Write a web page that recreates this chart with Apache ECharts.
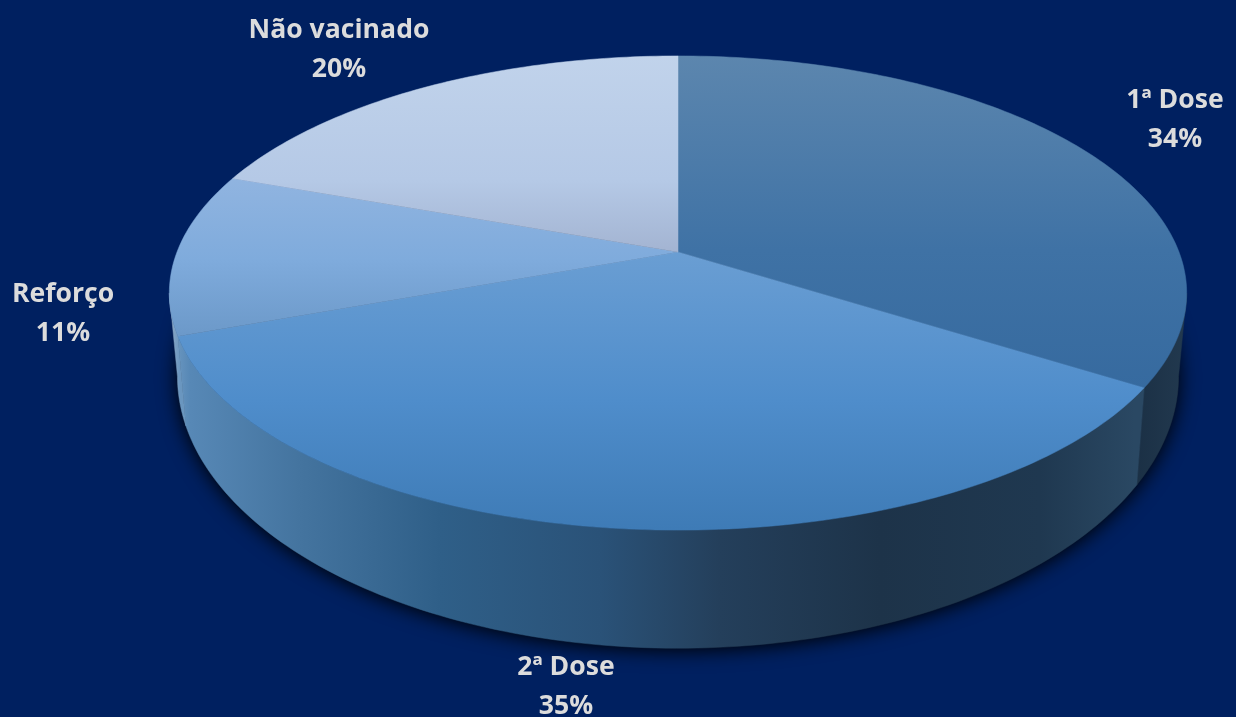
<!DOCTYPE html>
<html>
<head>
<meta charset="utf-8">
<title>Vacinação</title>
<script src="https://cdn.jsdelivr.net/npm/echarts@6/dist/echarts.min.js"></script>
<style>
  html, body { margin: 0; padding: 0; background: #002060; }
  #pie3d { width: 1236px; height: 717px; }
</style>
</head>
<body>
<div id="pie3d"></div>
<script>
// dados (o rotulo arredonda)
var categories = ['1ª Dose', '2ª Dose', 'Reforço', 'Não vacinado'];
var percents = [34, 35.4, 11.1, 19.5];

// cores de cada fatia: [y, cor] do gradiente vertical do topo
var topStops = [
  [[56, '#5c86ae'], [250, '#3f72a5'], [390, '#366a9f']],
  [[252, '#6a9ed3'], [400, '#4f8dcb'], [530, '#3e7bb6']],
  [[180, '#90b4e0'], [260, '#7fabdc'], [335, '#6c99c9']],
  [[56, '#c1d3eb'], [180, '#b5c9e6'], [252, '#a3b4d2']]
];
// cores da parede: [x, cor] do gradiente horizontal
var wallStops = [
  [[1130, '#1a2f44'], [1187, '#22394f']],
  [[176, '#6a96bf'], [190, '#5788b6'], [300, '#44749f'], [440, '#2f5f88'], [600, '#2a5278'], [720, '#243f5b'], [880, '#1d3349'], [1040, '#1f3850'], [1135, '#2a4863']],
  [[170, '#8fa9c6'], [180, '#6a96bf']],
  [[0, '#000000'], [1, '#000000']]
];
var labelCenters = [[1175, 120], [566, 687], [63, 314], [339, 50]];

// projeção do disco (topo e base)
var CX = 678;
var K = 0.173;
var topDisk = { r: 501, s: 230, y: 252 };
var baseDisk = { r: 493, s: 264, y: 329 };
var FRONT_FROM = 100, FRONT_TO = 260;

function project(disk, deg) {
  var a = deg * Math.PI / 180;
  var X = Math.sin(a), Y = -Math.cos(a);
  var w = 1 - K * Y;
  return [CX + disk.r * X / w, disk.y + disk.s * Y / w];
}

function arc(disk, from, to) {
  var pts = [];
  var n = Math.max(2, Math.ceil(Math.abs(to - from)));
  for (var i = 0; i <= n; i++) {
    pts.push(project(disk, from + (to - from) * i / n));
  }
  return pts;
}

function gradient(stops, horizontal) {
  var a = stops[0][0], b = stops[stops.length - 1][0];
  return {
    type: 'linear', global: true,
    x: horizontal ? a : 0, y: horizontal ? 0 : a,
    x2: horizontal ? b : 0, y2: horizontal ? 0 : b,
    colorStops: stops.map(function (s) {
      return { offset: (s[0] - a) / (b - a), color: s[1] };
    })
  };
}

function renderSlice(params, api) {
  var i = params.dataIndex;
  var total = percents.reduce(function (p, c) { return p + c; }, 0);
  var before = 0;
  for (var j = 0; j < i; j++) before += percents[j];
  var start = before / total * 360;
  var end = start + api.value(0) / total * 360;
  var children = [];

  // sombra da base
  if (i === 0) {
    children.push({
      type: 'polygon', z2: 0,
      shape: { points: arc(baseDisk, 0, 360) },
      style: { fill: '#050f20', shadowBlur: 20, shadowColor: '#000000', shadowOffsetY: 2 }
    });
  }

  // parede (so a parte da frente)
  var a = Math.max(start, FRONT_FROM), b = Math.min(end, FRONT_TO);
  if (b > a) {
    var wall = arc(topDisk, a, b).concat(arc(baseDisk, a, b).reverse());
    var wf = gradient(wallStops[i], true);
    children.push({
      type: 'polygon', z2: 1,
      shape: { points: wall },
      style: { fill: wf, stroke: wf, lineWidth: 0.5 }
    });
  }

  // topo
  var top = [[CX, topDisk.y]].concat(arc(topDisk, start, end));
  var tf = gradient(topStops[i], false);
  children.push({
    type: 'polygon', z2: 2,
    shape: { points: top },
    style: { fill: tf, stroke: tf, lineWidth: 0.5 }
  });

  children.push({
    type: 'text', z2: 3,
    style: {
      x: labelCenters[i][0], y: labelCenters[i][1],
      text: categories[i] + '\n' + Math.round(api.value(0)) + '%',
      fill: '#dcdcdc',
      font: 'bold 26.6px "Open Sans"',
      lineHeight: 39,
      align: 'center', verticalAlign: 'middle'
    }
  });
  return { type: 'group', children: children };
}

var chart = echarts.init(document.getElementById('pie3d'));
chart.setOption({
  backgroundColor: '#002060',
  animation: false,
  series: [{
    type: 'custom',
    coordinateSystem: 'none',
    renderItem: renderSlice,
    data: percents.map(function (v) { return [v]; })
  }]
});
window.addEventListener('resize', function () { chart.resize(); });
</script>
</body>
</html>
